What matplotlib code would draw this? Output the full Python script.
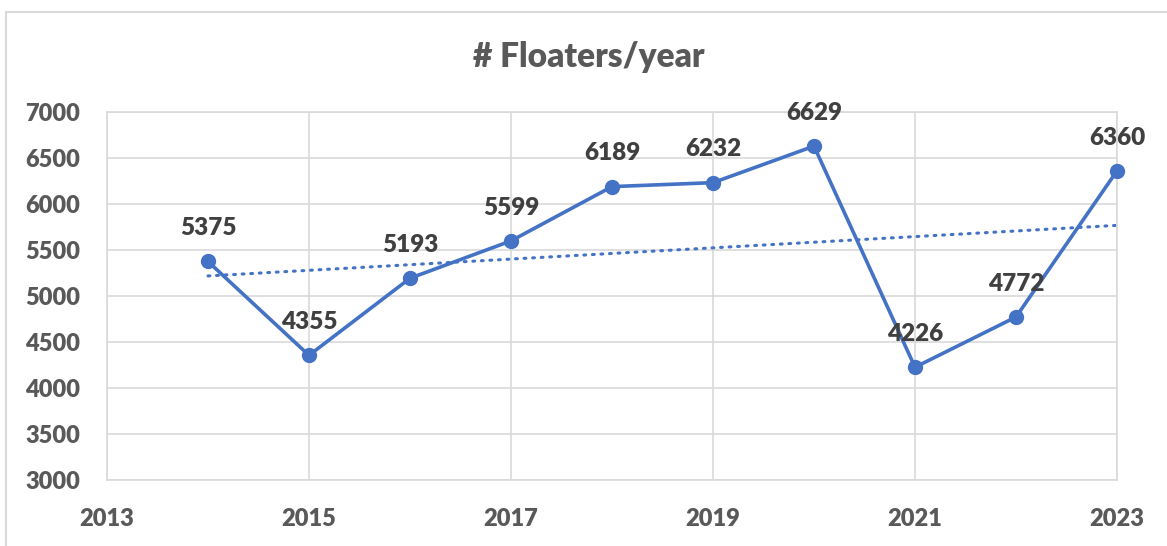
import matplotlib
matplotlib.use("Agg")
import matplotlib.pyplot as plt
import numpy as np
from matplotlib.patches import Rectangle

years = [2014, 2015, 2016, 2017, 2018, 2019, 2020, 2021, 2022, 2023]
floaters = [5375, 4355, 5193, 5599, 6189, 6232, 6629, 4226, 4772, 6360]
x_ticks = [2013, 2015, 2017, 2019, 2021, 2023]
y_ticks = [3000, 3500, 4000, 4500, 5000, 5500, 6000, 6500, 7000]
title = "# Floaters/year"

plt.rcParams['font.family'] = ['Lato', 'DejaVu Sans']
W, H = 1167, 546
fig = plt.figure(figsize=(W / 100, H / 100), dpi=100)

# outer chart border
fig.patches.append(Rectangle((6 / W, -0.1), 1.2, 1 - 12 / H + 0.1, transform=fig.transFigure,
                             fill=False, edgecolor='#D9D9D9', linewidth=1.5, zorder=0))

ax = fig.add_axes([107 / W, 1 - 480 / H, (1117 - 107) / W, (480 - 112) / H])
ax.set_xlim(2013, 2023)
ax.set_ylim(3000, 7000)
ax.set_xticks(x_ticks)
ax.set_yticks(y_ticks)
ax.grid(True, color='#D9D9D9', linewidth=1.2)
ax.set_axisbelow(True)
for s in ax.spines.values():
    s.set_color('#D9D9D9')
    s.set_linewidth(1.2)
ax.tick_params(length=0, labelsize=17, labelcolor='#595959')
ax.tick_params(axis='y', pad=19.5)
ax.tick_params(axis='x', pad=20)
for lab in ax.get_xticklabels() + ax.get_yticklabels():
    lab.set_fontweight('heavy')

color = '#4472C4'
ax.plot(years, floaters, color=color, linewidth=2.6, marker='o', markersize=10, zorder=3,
        clip_on=False)

# linear trendline
coef = np.polyfit(years, floaters, 1)
tx = np.array([years[0], years[-1]])
ax.plot(tx, np.polyval(coef, tx), color=color, linewidth=2.2, linestyle=(0, (0.6, 2.2)),
        dash_capstyle='round', zorder=2)

for x, y in zip(years, floaters):
    ax.annotate(f"{y}", (x, y), xytext=(0, 16), textcoords='offset points', ha='center',
                va='bottom', fontsize=17.5, fontweight='heavy', color='#404040')

fig.text(589 / W, 1 - 57 / H, title, ha='center', va='center', fontsize=24,
         fontweight='heavy', color='#595959')

fig.savefig("out.png", dpi=100)
